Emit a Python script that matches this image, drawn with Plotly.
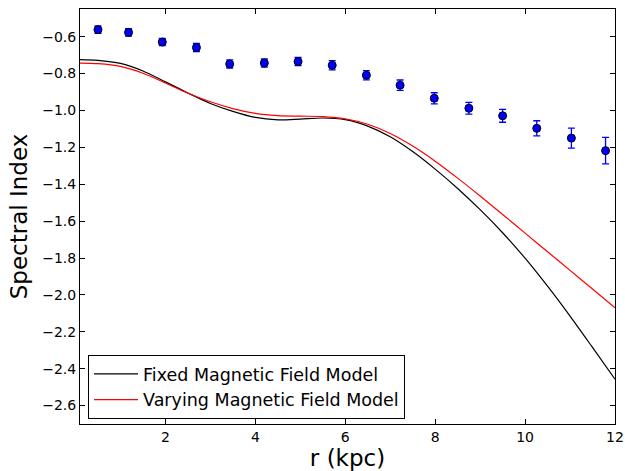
import plotly.graph_objects as go

# Observed data points
r_obs = [0.50, 1.18, 1.93, 2.69, 3.43, 4.20, 4.95, 5.71, 6.47, 7.22, 7.98, 8.75, 9.50, 10.26, 11.03, 11.79]
alpha_obs = [-0.562, -0.577, -0.629, -0.659, -0.748, -0.743, -0.735, -0.755, -0.809, -0.863, -0.934, -0.988, -1.029, -1.097, -1.150, -1.218]
alpha_err = [0.02, 0.02, 0.02, 0.022, 0.022, 0.022, 0.022, 0.025, 0.025, 0.028, 0.03, 0.032, 0.035, 0.041, 0.054, 0.072]

# Model curves
r_model = [0.1, 0.5, 1.0, 1.5, 2.0, 2.5, 3.0, 3.5, 4.0, 4.5, 5.0, 5.5, 6.0, 6.5, 7.0, 7.5,
           8.0, 8.5, 9.0, 9.5, 10.0, 10.5, 11.0, 11.5, 12.0]
alpha_fixed = [-0.724, -0.728, -0.745, -0.786, -0.845, -0.905, -0.962, -1.005, -1.038, -1.051,
               -1.047, -1.041, -1.050, -1.085, -1.143, -1.223, -1.318, -1.423, -1.538, -1.663,
               -1.801, -1.953, -2.115, -2.285, -2.457]
alpha_vary = [-0.743, -0.746, -0.761, -0.798, -0.851, -0.907, -0.953, -0.990, -1.016, -1.028,
              -1.031, -1.033, -1.045, -1.075, -1.125, -1.193, -1.275, -1.367, -1.464, -1.564,
              -1.665, -1.766, -1.867, -1.968, -2.070]

fig = go.Figure()
fig.add_trace(go.Scatter(x=r_model, y=alpha_fixed, mode="lines", line=dict(color="black", width=1.2, shape="spline", smoothing=0.8),
                         name="Fixed Magnetic Field Model"))
fig.add_trace(go.Scatter(x=r_model, y=alpha_vary, mode="lines", line=dict(color="#ff0000", width=1.2, shape="spline", smoothing=0.8),
                         name="Varying Magnetic Field Model"))
fig.add_trace(go.Scatter(x=r_obs, y=alpha_obs, mode="markers", showlegend=False,
                         marker=dict(color="#0000ff", size=8, line=dict(color="black", width=1)),
                         error_y=dict(type="data", array=alpha_err, color="#0000ff", thickness=1.3, width=3.5)))

axis_common = dict(showline=True, linecolor="black", linewidth=1, mirror="allticks", ticks="inside",
                   ticklen=5, tickcolor="black", showgrid=False, zeroline=False, automargin=False,
                   tickfont=dict(family="DejaVu Sans", size=14, color="black"))

fig.update_layout(
    width=625, height=471,
    margin=dict(l=79.5, r=10, t=9, b=47),
    plot_bgcolor="white", paper_bgcolor="white",
    xaxis=dict(range=[0.1, 12], dtick=2, tick0=0,
               title=dict(text="r (kpc)", font=dict(family="DejaVu Sans", size=23, color="black"), standoff=6),
               **axis_common),
    yaxis=dict(range=[-2.7, -0.45], dtick=0.2, tick0=0, tickformat=".1f",
               title=dict(text="Spectral Index", font=dict(family="DejaVu Sans", size=23, color="black"), standoff=8),
               **axis_common),
    legend=dict(x=0.015, y=0.012, xanchor="left", yanchor="bottom", bgcolor="white",
                bordercolor="black", borderwidth=1, itemwidth=44, tracegroupgap=0,
                font=dict(family="DejaVu Sans", size=17.5, color="black")),
)

fig.write_html("out.html")
